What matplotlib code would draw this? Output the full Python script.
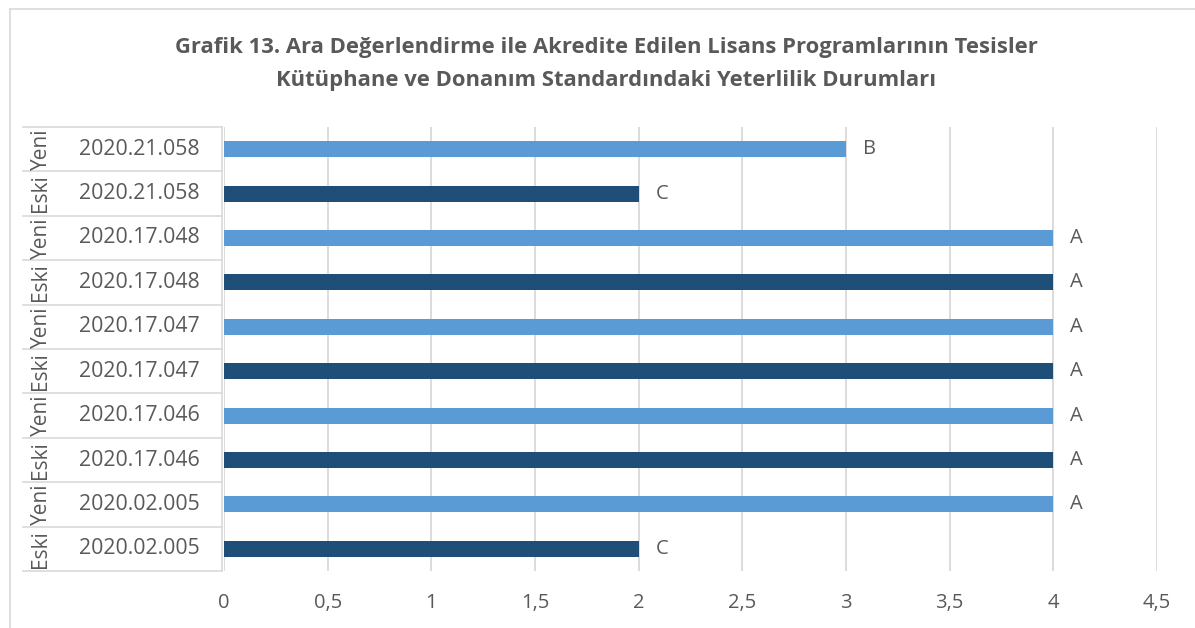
import matplotlib
matplotlib.use("Agg")
import matplotlib.pyplot as plt
import matplotlib.transforms as mtransforms
from matplotlib.lines import Line2D

# Data (bottom to top)
groups = ["Eski", "Yeni", "Eski", "Yeni", "Eski", "Yeni", "Eski", "Yeni", "Eski", "Yeni"]
programs = ["2020.02.005", "2020.02.005", "2020.17.046", "2020.17.046",
            "2020.17.047", "2020.17.047", "2020.17.048", "2020.17.048",
            "2020.21.058", "2020.21.058"]
values = [2, 4, 4, 4, 4, 4, 4, 4, 2, 3]
grades = ["C", "A", "A", "A", "A", "A", "A", "A", "C", "B"]
xticks = [0, 0.5, 1, 1.5, 2, 2.5, 3, 3.5, 4, 4.5]
xticklabels = ["0", "0,5", "1", "1,5", "2", "2,5", "3", "3,5", "4", "4,5"]
title = ("Grafik 13. Ara Değerlendirme ile Akredite Edilen Lisans Programlarının Tesisler\n"
         "Kütüphane ve Donanım Standardındaki Yeterlilik Durumları")

plt.rcParams['font.family'] = ['Open Sans', 'DejaVu Sans']
TXT = "#595959"
GRID = "#D9D9D9"
colors = {"Eski": "#1F4E79", "Yeni": "#5B9BD5"}

W, H = 1195, 628
fig = plt.figure(figsize=(W / 100, H / 100), dpi=100)

# chart border
fig.add_artist(Line2D([10 / W, 10 / W], [0, 1 - 9 / H], transform=fig.transFigure,
                      color=GRID, lw=1.2))
fig.add_artist(Line2D([10 / W, 1], [1 - 9 / H, 1 - 9 / H], transform=fig.transFigure,
                      color=GRID, lw=1.2))

left, right, top, bottom = 224, 1157, 127, 571
ax = fig.add_axes([left / W, 1 - bottom / H, (right - left) / W, (bottom - top) / H])

ypos = list(range(len(values)))
ax.barh(ypos, values, height=0.36, color=[colors[g] for g in groups], zorder=3)
for y, v, g in zip(ypos, values, grades):
    ax.annotate(g, (v, y), xytext=(12, 0), textcoords="offset points",
                va="center", ha="left", fontsize=14.5, color=TXT)

ax.set_xlim(0, 4.5)
ax.set_ylim(-0.5, len(values) - 0.5)
ax.set_xticks(xticks)
ax.set_xticklabels(xticklabels, fontsize=14.5, color=TXT)
ax.tick_params(axis='x', length=0, pad=16)
ax.set_yticks([])
ax.grid(axis='x', color=GRID, lw=1.3, zorder=0)
for s in ax.spines.values():
    s.set_visible(False)

# category table
tr = mtransforms.blended_transform_factory(fig.transFigure, ax.transData)
x0, x1 = 23 / W, 222 / W
for b in [i - 0.5 for i in range(len(values) + 1)]:
    fig.add_artist(Line2D([x0, x1], [b, b], transform=tr, color=GRID, lw=1.2, clip_on=False))
fig.add_artist(Line2D([x1, x1], [-0.5, len(values) - 0.5], transform=tr, color=GRID,
                      lw=1.2, clip_on=False))
for y, g, p in zip(ypos, groups, programs):
    fig.text(139 / W, y, p, transform=tr, ha="center", va="center", fontsize=15.3, color=TXT)
    fig.text(41 / W, y, g, transform=tr, ha="center", va="center", rotation=90,
             rotation_mode="anchor", fontsize=15, color=TXT)

fig.text(606 / W, 1 - 64 / H, title, ha="center", va="center",
         fontsize=15.8, fontweight="bold", color=TXT, linespacing=1.75)

fig.savefig("out.png", dpi=100)
